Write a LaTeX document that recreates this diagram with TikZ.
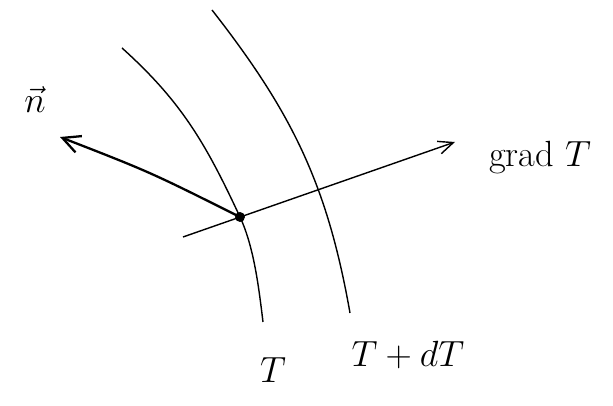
\documentclass[tikz,border=0pt]{standalone}
\usepackage{amsmath, amssymb}
\usetikzlibrary{arrows.meta}

\begin{document}
\begin{tikzpicture}[scale=1,
							isoterma/.style={line width=0.8pt},
							flecha/.style={-{Straight Barb[length=3.5mm,width=3.5mm]}},
							etiqueta/.style={draw=none, fill=none, font=\huge}
							]
							\useasboundingbox (0,0) rectangle (12.26,8.12);
							% Definición de puntos
							\coordinate (P) at (4.8,3.78);
							\coordinate (Ta) at (2.44,7.16);
							\coordinate (Tb) at (5.26,1.68);
							\coordinate (Da) at (4.24,7.92);
							\coordinate (Db) at (7.0,1.86);
							\coordinate (N) at (1.2,5.38);
							\coordinate (G0) at (3.66,3.38);
							\coordinate (G1) at (9.1,5.28);
							
							% Isotermas
							\draw[isoterma] (Ta) to[out=-42, in=115] (P) to[out=-65, in=97, looseness=0.8] (Tb);
							\draw[isoterma] (Da) to[out=-52, in=100] (Db);
							
							% Normal y gradiente
							\draw[flecha, line width=1.3pt] (P) .. controls (3.0,4.68) .. (N);
							\draw[flecha, line width=0.8pt, -{Straight Barb[length=3mm,width=2.6mm]}] (G0) -- (G1);
							\node[circle, fill, inner sep=2pt] (punto) at (P) {};
							
							% Etiquetas
							\node[etiqueta] (n) at (0.7,6.12) {$\vec{n}$};
							\node[etiqueta] (grad) at (10.8,4.96) {grad $T$};
							\node[etiqueta] (T) at (5.46,0.72) {$T$};
							\node[etiqueta] (TdT) at (8.16,1.02) {$T+dT$};
						\end{tikzpicture}
\end{document}
